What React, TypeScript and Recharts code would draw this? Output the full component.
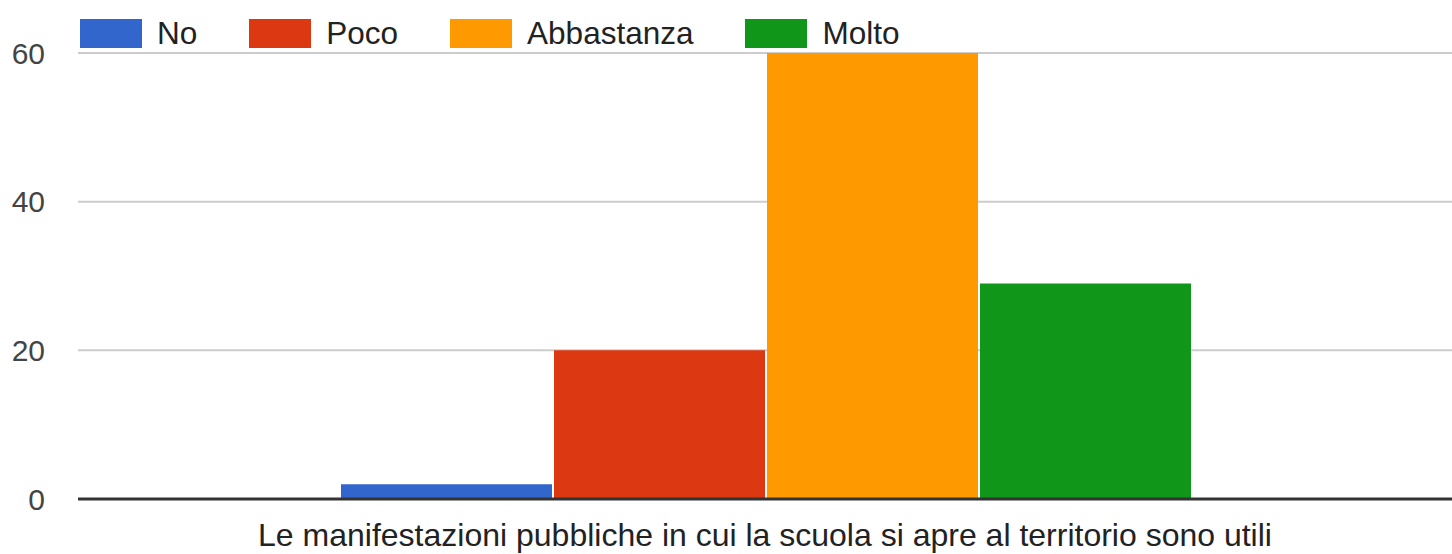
import { BarChart, Bar, XAxis, YAxis, CartesianGrid, ReferenceLine } from "recharts";

const categories = ["Le manifestazioni pubbliche in cui la scuola si apre al territorio sono utili"];
const seriesNames = ["No", "Poco", "Abbastanza", "Molto"];
const seriesValues = [2, 20, 60, 29];
const seriesColors = ["#3366cc", "#dc3912", "#ff9900", "#109618"];
const yTicks = [0, 20, 40, 60];

const FONT = '"Liberation Sans", Arial, sans-serif';

const chartData = categories.map((name) => {
    const row: Record<string, any> = { name };
    seriesNames.forEach((s, i) => { row[s] = seriesValues[i]; });
    return row;
});

// legend drawn over the chart so it doesn't push the plot area down
const ChartLegend = () => (
    <div style={{ position: "absolute", top: 19, left: 80, display: "flex", alignItems: "center", fontFamily: FONT }}>
        {seriesNames.map((s, i) => (
            <div key={s} style={{ display: "flex", alignItems: "center", marginRight: 52 }}>
                <span style={{ width: 62, height: 29, background: seriesColors[i], display: "inline-block", marginRight: 15 }} />
                <span style={{ fontSize: 31.5, color: "#222", lineHeight: "29px" }}>{s}</span>
            </div>
        ))}
    </div>
);

export default function App() {
    return (
        <div style={{ position: "relative", width: 1452, height: 554, fontFamily: FONT }}>
            <style>{"body{margin:0}"}</style>
            <BarChart
                width={1452}
                height={554}
                data={chartData}
                margin={{ top: 53, right: 0, left: 0, bottom: 0 }}
                barCategoryGap={263}
                barGap={2}
            >
                <CartesianGrid vertical={false} stroke="#cccccc" strokeWidth={2} />
                <XAxis
                    dataKey="name"
                    height={55}
                    axisLine={false}
                    tickLine={false}
                    tickSize={0}
                    tickMargin={24}
                    interval={0}
                    tick={{ fontSize: 32, fill: "#222", fontFamily: FONT }}
                />
                <YAxis
                    width={78}
                    domain={[0, 60]}
                    ticks={yTicks}
                    axisLine={false}
                    tickLine={false}
                    tickSize={0}
                    tickMargin={33}
                    tick={{ fontSize: 30, fill: "#444", fontFamily: FONT }}
                />
                {seriesNames.map((s, i) => (
                    <Bar key={s} dataKey={s} fill={seriesColors[i]} isAnimationActive={false} />
                ))}
                <ReferenceLine y={0} stroke="#333333" strokeWidth={3} />
            </BarChart>
            <ChartLegend />
        </div>
    );
}
